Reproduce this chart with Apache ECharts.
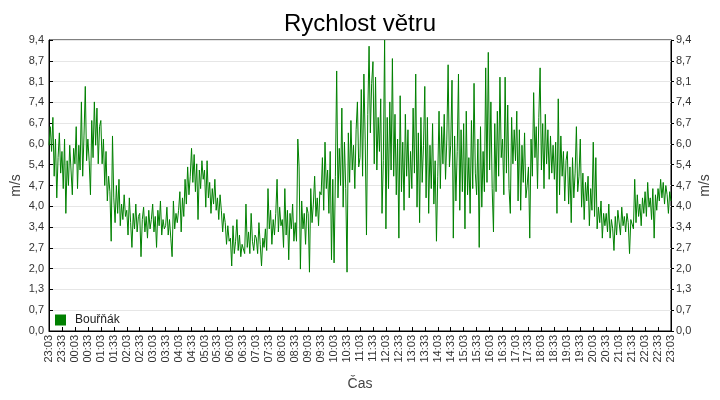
<!DOCTYPE html>
<html>
<head>
<meta charset="utf-8">
<script src="https://cdn.jsdelivr.net/npm/echarts@6/dist/echarts.min.js"></script>
<style>html,body{margin:0;padding:0;background:#fff}#c{width:720px;height:400px}</style>
</head>
<body>
<div id="c"></div>
<script>
// ---- data (wind speed m/s, 3-minute samples from 23:03 to 23:03) ----
const startTime = "23:03";
const stepMinutes = 3;
const labelStepMinutes = 30;
const seriesName = "Bouřňák";
const yTickCount = 14;
const yMax = 9.4;

const speedNight = [ // 23:03 - 05:00
  6.0, 6.6, 5.8, 6.9, 5.0, 6.2, 4.3, 5.6, 6.4, 5.1,
  5.8, 4.6, 6.2, 3.8, 5.5, 4.7, 6.0, 5.2, 4.4, 5.9,
  5.4, 6.6, 4.6, 6.0, 5.2, 7.4, 5.0, 6.3, 7.9, 5.5,
  6.2, 5.5, 4.4, 6.8, 5.6, 7.4, 6.0, 7.2, 5.4, 6.6,
  6.8, 5.4, 6.2, 4.7, 5.8, 4.2, 5.0, 4.5, 2.9, 6.3,
  4.3, 3.5, 4.7, 3.8, 4.9, 3.4, 4.1, 3.6, 4.4, 3.7,
  3.9, 3.1, 4.3, 3.5, 2.7, 3.8, 3.3, 4.1, 3.2, 3.7,
  3.8, 2.4, 3.6, 4.0, 3.2, 3.7, 3.0, 3.9, 3.3, 3.6,
  4.1, 3.2, 3.7, 2.7, 3.9, 3.4, 4.2, 3.1, 3.6, 3.3,
  3.4, 4.0, 3.1, 3.6, 3.0, 2.4, 4.2, 3.3, 3.8, 3.5,
  3.9, 4.5, 3.2, 4.3, 3.7, 4.9, 4.1, 5.3, 4.4, 5.0,
  5.9, 4.8, 5.7, 4.5, 5.4, 3.6, 5.2, 4.6, 5.5, 4.9
];
const speedMorning = [ // 05:03 - 11:00
  5.2, 4.0, 5.5, 4.3, 4.8, 3.8, 4.6, 4.1, 4.9, 3.9,
  4.3, 3.6, 4.4, 3.9, 3.2, 3.8, 3.5, 2.8, 3.4, 2.9,
  3.0, 2.1, 3.4, 2.5, 2.9, 3.6, 2.6, 3.1, 2.4, 2.8,
  2.8, 2.5, 4.1, 2.7, 3.2, 2.5, 3.8, 2.9, 2.6, 3.1,
  3.0, 2.5, 3.5, 2.8, 2.1, 3.0, 2.7, 3.3, 2.6, 4.6,
  3.3, 3.9, 2.8, 3.6, 3.1, 3.8, 4.9, 3.2, 4.0, 3.4,
  3.6, 2.7, 4.6, 3.1, 3.9, 2.3, 3.8, 3.3, 4.1, 2.9,
  3.5, 2.9, 6.2, 5.3, 2.0, 4.2, 3.3, 3.8, 2.8, 4.0,
  3.8, 1.9, 4.6, 3.5, 4.1, 5.0, 3.7, 4.3, 3.4, 4.5,
  4.4, 5.6, 3.9, 6.1, 4.6, 5.2, 3.8, 5.8, 2.3, 4.9,
  2.2, 5.0, 8.4, 4.3, 5.9, 4.7, 7.2, 4.0, 6.1, 4.6,
  1.9, 6.4, 4.8, 6.8, 5.2, 6.0, 4.6, 6.5, 7.4, 5.3
];
const speedAfternoon = [ // 11:03 - 17:00
  5.6, 7.8, 5.0, 8.3, 6.2, 3.1, 7.0, 9.2, 6.4, 8.0,
  8.7, 5.4, 8.2, 5.2, 6.9, 5.8, 7.5, 3.8, 5.5, 9.4,
  3.3, 6.9, 4.6, 7.4, 5.2, 8.8, 5.0, 7.0, 4.4, 6.2,
  3.0, 7.6, 4.5, 6.1, 3.9, 7.0, 5.0, 6.5, 4.3, 5.8,
  4.6, 7.2, 5.1, 8.3, 4.0, 6.4, 3.5, 6.9, 4.8, 6.0,
  7.9, 4.3, 6.9, 3.8, 6.0, 4.6, 6.7, 4.1, 5.5, 2.9,
  5.0, 7.1, 4.6, 6.6, 5.4, 7.0, 4.9, 6.2, 8.6, 5.3,
  6.0, 8.1, 3.0, 6.3, 4.2, 5.8, 8.3, 3.9, 6.5, 4.5,
  6.7, 3.3, 7.1, 4.4, 5.6, 3.8, 6.8, 4.6, 8.0, 5.1,
  4.4, 6.2, 2.7, 6.6, 4.0, 5.8, 4.5, 8.5, 4.8, 9.0,
  5.2, 7.4, 4.6, 3.2, 6.7, 4.5, 7.1, 5.0, 8.2, 5.6,
  6.2, 4.4, 8.2, 5.1, 7.3, 4.6, 3.8, 6.9, 5.4, 6.5
];
const speedEvening = [ // 17:03 - 23:03
  5.5, 7.1, 4.2, 6.5, 3.9, 6.0, 4.8, 6.4, 4.3, 4.7,
  5.3, 3.0, 6.2, 5.0, 7.7, 5.6, 6.6, 4.6, 6.9, 8.5,
  5.2, 6.7, 4.6, 7.0, 5.4, 6.5, 4.9, 6.3, 5.1, 6.0,
  4.9, 6.1, 3.8, 7.5, 4.4, 6.3, 5.0, 5.8, 4.2, 5.5,
  5.8, 4.1, 5.3, 3.5, 5.6, 4.3, 5.1, 6.6, 4.5, 5.0,
  6.2, 4.0, 5.1, 3.6, 4.8, 4.2, 5.0, 3.4, 4.6, 3.9,
  6.1, 3.7, 5.6, 3.3, 4.0, 3.5, 4.2, 3.0, 3.8, 3.4,
  3.8, 3.2, 4.1, 3.0, 3.6, 3.3, 2.6, 3.7, 3.1, 3.9,
  3.9, 3.1, 4.0, 3.4, 3.7, 3.2, 3.8, 3.5, 2.5, 3.6,
  3.6, 3.3, 4.9, 3.5, 4.4, 3.7, 4.1, 3.4, 4.3, 3.8,
  4.5, 3.7, 4.8, 4.0, 4.3, 3.6, 4.6, 3.0, 4.4, 3.9,
  4.6, 4.2, 4.9, 4.3, 4.8, 4.1, 4.7, 4.4, 3.8, 4.5,
  4.2
];

const speeds = [].concat(speedNight, speedMorning, speedAfternoon, speedEvening);

// time categories
const [sh, sm] = startTime.split(':').map(Number);
const times = speeds.map((_, i) => {
  const t = (sh * 60 + sm + i * stepMinutes) % 1440;
  const h = Math.floor(t / 60), m = t % 60;
  return String(h).padStart(2, '0') + ':' + String(m).padStart(2, '0');
});
const labelEvery = labelStepMinutes / stepMinutes;

const fmt = v => v.toFixed(1).replace('.', ',');
const font = '"Liberation Sans", Arial, sans-serif';

const yAxisCommon = {
  type: 'value', min: 0, max: yMax, interval: yMax / yTickCount,
  name: 'm/s', nameLocation: 'middle', nameMoveOverlap: false,
  nameTextStyle: { fontFamily: font, fontSize: 14, color: '#444' },
  axisLine: { show: true, lineStyle: { color: '#000', width: 1 } },
  axisLabel: { formatter: fmt, fontFamily: font, fontSize: 11, color: '#333', margin: 5 },
};

const chart = echarts.init(document.getElementById('c'), null, { renderer: 'canvas' });
chart.setOption({
  animation: false,
  backgroundColor: '#fff',
  title: {
    text: 'Rychlost větru', left: 'center', top: 7,
    textStyle: { fontFamily: font, fontSize: 24, fontWeight: 'normal', color: '#000' }
  },
  legend: {
    data: [{ name: seriesName, icon: 'rect' }],
    left: 50, top: 309, itemWidth: 11, itemHeight: 11, itemGap: 8,
    textStyle: { fontFamily: font, fontSize: 12, color: '#222', padding: [0, 0, 0, 4] }
  },
  grid: {
    left: 49, right: 49, top: 40, bottom: 69,
    outerBoundsMode: 'none', containLabel: false,
    show: true, borderColor: '#000', borderWidth: 1
  },
  xAxis: {
    type: 'category', data: times, boundaryGap: false,
    name: 'Čas', nameLocation: 'middle', nameGap: 46, nameMoveOverlap: false,
    nameTextStyle: { fontFamily: font, fontSize: 14, color: '#444' },
    axisLine: { lineStyle: { color: '#000', width: 1 } },
    axisTick: { inside: true, length: 4, interval: labelEvery - 1, lineStyle: { color: '#000' } },
    axisLabel: { interval: labelEvery - 1, rotate: 90, fontFamily: font, fontSize: 11, color: '#333', margin: 4 },
    splitLine: { show: false }
  },
  yAxis: [
    Object.assign({}, yAxisCommon, {
      position: 'left', nameGap: 26,
      axisTick: { show: true, inside: true, length: 4, lineStyle: { color: '#000' } },
      splitLine: { show: true, lineStyle: { color: '#e6e6e6', width: 1 } }
    }),
    Object.assign({}, yAxisCommon, {
      position: 'right', nameGap: 27,
      axisTick: { show: true, inside: false, length: 3, lineStyle: { color: '#000' } },
      splitLine: { show: false }
    })
  ],
  series: [{
    name: seriesName, type: 'line', data: speeds, yAxisIndex: 0,
    showSymbol: false, symbol: 'none',
    lineStyle: { color: '#008000', width: 1 },
    itemStyle: { color: '#008000' }
  }]
});
</script>
</body>
</html>
